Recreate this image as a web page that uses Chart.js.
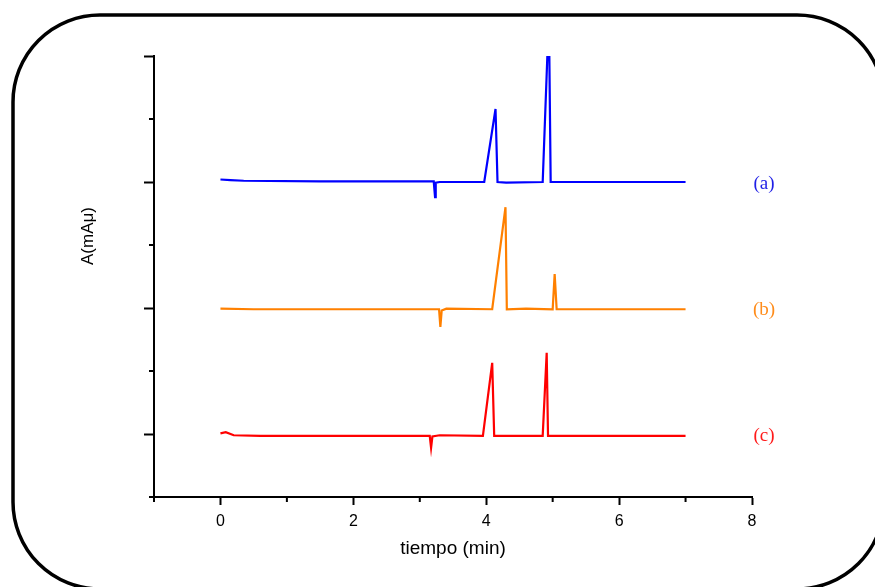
<!DOCTYPE html>
<html lang="es">
<head>
    <meta charset="UTF-8">
    <title>Cromatogramas</title>
    <script src="https://cdn.jsdelivr.net/npm/chart.js"></script>
    <style>
        * { margin: 0; padding: 0; box-sizing: border-box; }
        body { background: #fff; width: 875px; height: 587px; overflow: hidden; }
        canvas { display: block; }
    </style>
</head>
<body>
    <canvas id="chart" width="875" height="587"></canvas>

    <script>
        // tiempo (min) / absorbancia desplazada para cada cromatograma
        const tiempoA = [0, 0.15, 0.35, 1.5, 3.21, 3.23, 3.24, 3.3, 3.97, 4.14, 4.17, 4.3, 4.85, 4.92, 4.95, 4.97, 5.6, 7.0];
        const serieA  = [5.04, 5.03, 5.02, 5.01, 5.01, 4.76, 4.99, 5.0, 5.0, 6.16, 5.0, 4.99, 5.0, 7.0, 7.0, 5.0, 5.0, 5.0];

        const tiempoB = [0, 0.5, 1.8, 3.29, 3.31, 3.33, 3.4, 4.09, 4.29, 4.31, 4.6, 5.0, 5.03, 5.06, 5.7, 7.0];
        const serieB  = [2.99, 2.98, 2.98, 2.98, 2.70, 2.96, 2.99, 2.98, 4.60, 2.98, 2.99, 2.98, 3.54, 2.98, 2.98, 2.98];

        const tiempoC = [0, 0.08, 0.2, 0.6, 1.8, 3.15, 3.17, 3.19, 3.3, 3.95, 4.09, 4.12, 4.5, 4.85, 4.91, 4.93, 5.5, 7.0];
        const serieC  = [1.01, 1.03, 0.98, 0.97, 0.97, 0.97, 0.78, 0.96, 0.98, 0.97, 2.13, 0.97, 0.97, 0.97, 2.29, 0.97, 0.97, 0.97];

        const etiquetas = ['(a)', '(b)', '(c)'];
        const posEtiquetas = [5.0, 3.0, 1.0];
        const xEtiqueta = 8.18;
        const colores = ['#0000ff', '#ff8000', '#ff0000'];
        const coloresTexto = ['#1f1fe6', '#ff8c1a', '#ff1a1a'];

        const toPoints = (ts, ys) => ts.map((t, i) => ({ x: t, y: ys[i] }));

        // marco redondeado, titulo Y, marcas menores y etiquetas
        const decoracion = {
            id: 'decoracion',
            afterDraw(chart) {
                const { ctx, scales: { x, y } } = chart;
                ctx.save();

                // marco
                ctx.strokeStyle = '#000';
                ctx.lineWidth = 3.5;
                ctx.beginPath();
                ctx.roundRect(13, 15, 871, 574, 87);
                ctx.stroke();

                // marcas menores
                ctx.lineWidth = 2;
                ctx.beginPath();
                for (let v = -1; v <= 8; v++) {
                    if (v % 2 !== 0) {
                        const px = x.getPixelForValue(v);
                        ctx.moveTo(px, x.top);
                        ctx.lineTo(px, x.top + 5);
                    }
                }
                for (let v = 0; v <= 7; v++) {
                    if (v % 2 === 0) {
                        const py = y.getPixelForValue(v);
                        ctx.moveTo(y.right - 5, py);
                        ctx.lineTo(y.right, py);
                    }
                }
                ctx.stroke();

                // titulo eje Y
                ctx.translate(88, 236);
                ctx.rotate(-Math.PI / 2);
                ctx.fillStyle = '#000';
                ctx.font = '17px "Liberation Sans", Arial, sans-serif';
                ctx.textAlign = 'center';
                ctx.textBaseline = 'middle';
                ctx.fillText('A(mAμ)', 0, 0);
                ctx.setTransform(1, 0, 0, 1, 0, 0);

                // etiquetas (a) (b) (c)
                ctx.font = '19px "Liberation Serif", "Times New Roman", serif';
                ctx.textAlign = 'center';
                ctx.textBaseline = 'middle';
                etiquetas.forEach((txt, i) => {
                    ctx.fillStyle = coloresTexto[i];
                    ctx.fillText(txt, x.getPixelForValue(xEtiqueta), y.getPixelForValue(posEtiquetas[i]) + 2);
                });
                ctx.restore();
            }
        };

        const ds = (ts, ys, c) => ({
            data: toPoints(ts, ys),
            borderColor: c,
            borderWidth: 2.2,
            pointRadius: 0,
            tension: 0,
            fill: false
        });

        new Chart(document.getElementById('chart'), {
            type: 'line',
            data: {
                datasets: [
                    ds(tiempoA, serieA, colores[0]),
                    ds(tiempoB, serieB, colores[1]),
                    ds(tiempoC, serieC, colores[2])
                ]
            },
            options: {
                responsive: false,
                animation: false,
                devicePixelRatio: 1,
                layout: { padding: { top: 56, right: 123, bottom: 0, left: 0 } },
                plugins: {
                    legend: { display: false },
                    tooltip: { enabled: false }
                },
                scales: {
                    x: {
                        type: 'linear',
                        min: -1,
                        max: 8,
                        border: { display: true, color: '#000', width: 2 },
                        grid: {
                            drawOnChartArea: false,
                            tickLength: 8,
                            tickWidth: 2,
                            tickColor: c => (c.tick && c.tick.value % 2 === 0) ? '#000' : 'rgba(0,0,0,0)'
                        },
                        ticks: {
                            stepSize: 1,
                            padding: 7,
                            color: '#000',
                            maxRotation: 0,
                            autoSkip: false,
                            font: { family: '"Liberation Sans", Arial, sans-serif', size: 16 },
                            callback: v => (v % 2 === 0 ? String(v) : '')
                        },
                        title: {
                            display: true,
                            text: 'tiempo (min)',
                            color: '#000',
                            font: { family: '"Liberation Sans", Arial, sans-serif', size: 19 },
                            padding: { top: 0, bottom: 27 }
                        },
                        afterFit: s => { s.height = 90; }
                    },
                    y: {
                        type: 'linear',
                        min: 0,
                        max: 7,
                        border: { display: true, color: '#000', width: 2 },
                        grid: {
                            drawOnChartArea: false,
                            tickLength: 10,
                            tickWidth: 2,
                            tickColor: c => (c.tick && Math.abs(c.tick.value % 2) === 1) ? '#000' : 'rgba(0,0,0,0)'
                        },
                        ticks: { stepSize: 1, display: false },
                        afterFit: s => { s.width = 154; }
                    }
                }
            },
            plugins: [decoracion]
        });
    </script>
</body>
</html>
